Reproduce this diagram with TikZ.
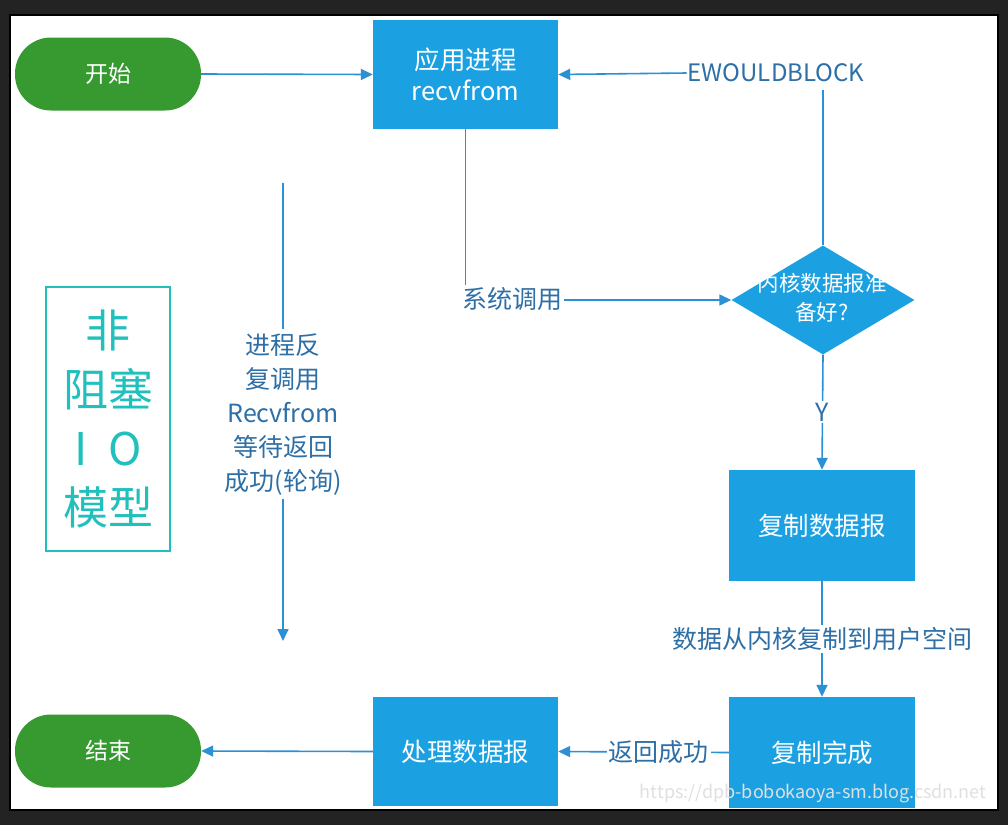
\documentclass[tikz,border=0pt]{standalone}
\usepackage{fontspec}
\setmainfont{Noto Sans CJK SC}
\usetikzlibrary{arrows.meta,shapes.geometric}
\definecolor{frame}{HTML}{232323}
\definecolor{boxblue}{HTML}{1BA1E2}
\definecolor{lineblue}{HTML}{2B90D6}
\definecolor{labelblue}{HTML}{2D6FA6}
\definecolor{startgreen}{HTML}{379A30}
\definecolor{teal}{HTML}{22C0BC}
\tikzset{
  procbox/.style={draw=none,fill=boxblue,text=white,minimum width=185pt,minimum height=109pt,inner sep=0pt,align=center,font=\fontsize{25.5}{31}\selectfont},
  termnode/.style={draw=none,fill=startgreen,text=white,rounded corners=36pt,minimum width=186pt,minimum height=73pt,inner sep=0pt,font=\fontsize{23}{26}\selectfont},
  conn/.style={draw=lineblue,line width=1.6pt,-{Triangle[length=12pt,width=11pt]}},
  plainconn/.style={draw=lineblue,line width=1.6pt},
  lbl/.style={fill=white,text=labelblue,inner sep=2pt,align=center,font=\fontsize{25}{34}\selectfont},
}
\begin{document}
\begin{tikzpicture}[x=1pt,y=-1pt]
\fill[frame] (0,0) rectangle (1008,825);
\useasboundingbox (0,0) rectangle (1008,825);
\draw[black,line width=2pt,fill=white] (10,15) rectangle (998,810);

% nodes
\node[termnode] (start) at (108,74) {开始};
\node[termnode] (end) at (108,751) {结束};
\node[procbox] (app) at (465.5,74.5) {应用进程\\recvfrom};
\node[lbl,inner sep=1pt,font=\fontsize{24}{28}\selectfont] (ewb) at (776,73) {EWOULDBLOCK};
\node[diamond,fill=boxblue,draw=none,aspect=1.68,minimum width=183pt,minimum height=109pt,inner sep=0pt] (ready) at (823,300) {};
\node[text=white,align=center,font=\fontsize{21.5}{29}\selectfont] (readytxt) at (822,298) {内核数据报准\\备好?};
\node[procbox,minimum width=186pt,minimum height=111pt] (copy) at (822,525.5) {复制数据报};
\node[procbox,minimum width=186pt,minimum height=111pt] (done) at (822,752.5) {复制完成};
\node[procbox,minimum height=109pt] (handle) at (465.5,751.5) {处理数据报};

% title
\node[draw=teal,line width=1.8pt,text=teal,minimum width=124pt,minimum height=264pt,inner sep=0pt,align=center,font=\fontsize{45}{59}\selectfont] (title) at (108,419) {非\\阻塞\\I\hspace{0.45em}O\\模型};

% connectors
\draw[conn] (start.east) -- (app.west);
\draw[conn] (ewb.west) -- (app.east);
\draw[plainconn] (ready.north) -- (ready.north |- 0,90);
\draw[conn] (app.south) |- (ready.west);
\node[lbl] (syscall) at (512,299) {系统调用};
\draw[conn] (ready.south) -- node[lbl] (ylbl) {Y} (copy.north);
\draw[conn] (copy.south) -- node[lbl,pos=0.5] (cpylbl) {数据从内核复制到用户空间} (done.north);
\draw[conn] (done.west) -- node[lbl,pos=0.41] (retlbl) {返回成功} (handle.east);
\draw[conn] (handle.west) -- (end.east);

\coordinate (pollA) at (283,183);
\coordinate (pollB) at (283,641);
\draw[conn] (pollA) -- node[lbl,pos=0.505,inner sep=4pt] (polllbl) {进程反\\复调用\\Recvfrom\\等待返回\\成功(轮询)} (pollB);

% watermark
\node[text=black!12,font=\fontsize{18}{20}\selectfont,anchor=east] (wm) at (990,794) {https://dpb-bobokaoya-sm.blog.csdn.net};
\end{tikzpicture}
\end{document}
